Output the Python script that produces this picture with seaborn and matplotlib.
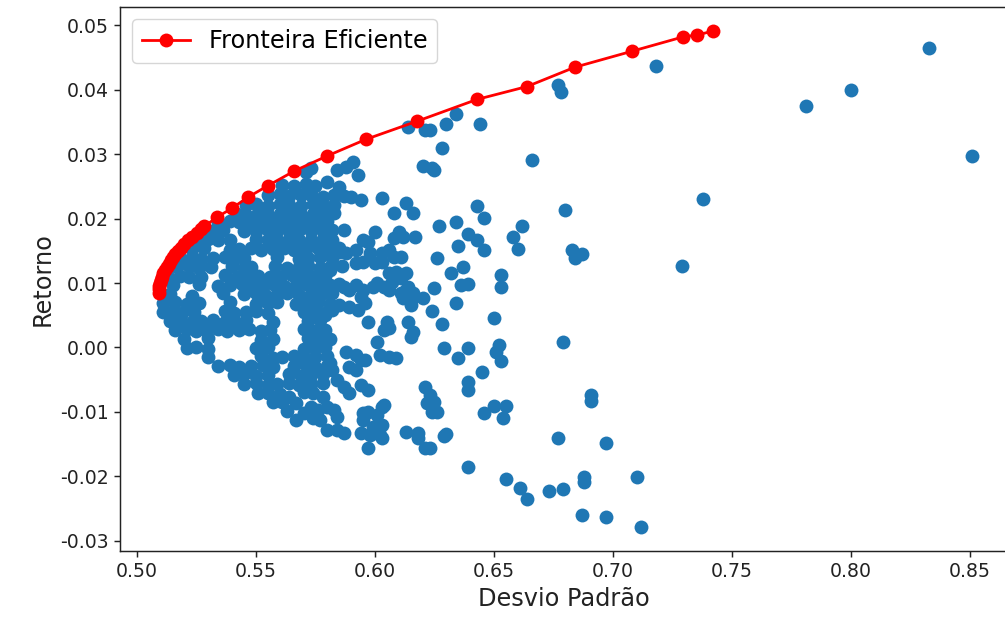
import matplotlib
matplotlib.use("Agg")
import matplotlib.pyplot as plt
import seaborn as sns
import pandas as pd

# Random portfolios: standard deviation (risk) and expected return
desvio = [
    0.781, 0.800, 0.833, 0.851, 0.738, 0.729, 0.718, 0.677, 0.678,
    0.634, 0.630, 0.623, 0.644, 0.628, 0.666, 0.625,
    0.643, 0.680, 0.646, 0.627, 0.634, 0.662, 0.639, 0.643, 0.658, 0.646, 0.660, 0.635,
    0.683, 0.687, 0.684, 0.626, 0.637, 0.632, 0.636, 0.639, 0.653, 0.653, 0.625, 0.634,
    0.624, 0.628, 0.650, 0.679, 0.629, 0.639, 0.635, 0.652, 0.651, 0.653, 0.645, 0.639,
    0.639, 0.691, 0.691, 0.625, 0.624, 0.646, 0.650, 0.655, 0.654, 0.629, 0.630, 0.623,
    0.677, 0.697, 0.639, 0.655, 0.661, 0.664, 0.673, 0.679, 0.688, 0.688, 0.710, 0.687,
    0.697, 0.712,
    0.614, 0.621, 0.620, 0.624,
    0.591, 0.588, 0.573, 0.584, 0.593, 0.571, 0.580,
    0.590, 0.594, 0.603, 0.613, 0.616, 0.608,
    0.587, 0.600, 0.595, 0.597, 0.610, 0.608, 0.612, 0.617,
    0.606, 0.603, 0.598, 0.592, 0.588, 0.585, 0.611, 0.608,
    0.592, 0.595, 0.600, 0.603, 0.581, 0.606, 0.609, 0.613,
    0.587, 0.589, 0.592, 0.595, 0.599, 0.601, 0.604, 0.607, 0.611, 0.614, 0.616, 0.613, 0.620,
    0.578, 0.576,
    0.585, 0.589, 0.579, 0.582, 0.594, 0.596, 0.593, 0.597, 0.606, 0.611, 0.612, 0.616, 0.615,
    0.605, 0.606, 0.604, 0.614, 0.616, 0.615, 0.601,
    0.602, 0.606, 0.609, 0.588, 0.592, 0.594, 0.596, 0.589, 0.592, 0.581, 0.582,
    0.584, 0.587, 0.589, 0.594, 0.597, 0.621, 0.623,
    0.570, 0.574, 0.578, 0.573, 0.576, 0.570, 0.574, 0.577, 0.567, 0.564,
    0.580, 0.583, 0.584, 0.595, 0.597, 0.603, 0.604, 0.601, 0.622, 0.626,
    0.580, 0.584, 0.587, 0.594, 0.598, 0.602, 0.599, 0.613, 0.618,
    0.597, 0.603, 0.603, 0.621, 0.618, 0.595, 0.567,
    0.561, 0.566, 0.571, 0.575, 0.585,
    0.555, 0.560, 0.564, 0.569, 0.573, 0.578, 0.583, 0.587,
    0.546, 0.550, 0.555, 0.560, 0.564, 0.569, 0.574, 0.578, 0.583,
    0.542, 0.546, 0.551, 0.555, 0.560, 0.565, 0.569, 0.574, 0.578, 0.583,
    0.534, 0.539, 0.543, 0.548, 0.553, 0.557, 0.562, 0.566, 0.571, 0.576, 0.580,
    0.531, 0.536, 0.545, 0.550, 0.555, 0.559, 0.564, 0.568, 0.573, 0.578, 0.582,
    0.525, 0.530, 0.534, 0.539, 0.550, 0.555, 0.559, 0.564, 0.568, 0.573, 0.578, 0.582,
    0.523, 0.528, 0.539, 0.543, 0.548, 0.552, 0.557, 0.562, 0.566, 0.571, 0.576, 0.580, 0.585,
    0.518, 0.523, 0.527, 0.532, 0.537, 0.541, 0.545, 0.559, 0.568, 0.572, 0.577, 0.582,
    0.517, 0.522, 0.526, 0.531, 0.540, 0.545, 0.548, 0.558, 0.563, 0.568, 0.572, 0.577, 0.581, 0.586,
    0.513, 0.518, 0.522, 0.527, 0.537, 0.542, 0.546, 0.551, 0.556, 0.560, 0.565, 0.570, 0.574, 0.579,
    0.515, 0.526, 0.534, 0.539, 0.544, 0.548, 0.553, 0.557, 0.562, 0.567, 0.571, 0.576, 0.581, 0.585,
    0.514, 0.523, 0.536, 0.545, 0.550, 0.554, 0.559, 0.563, 0.568, 0.573, 0.582,
    0.511, 0.516, 0.521, 0.526, 0.539, 0.550, 0.555, 0.559, 0.567, 0.571, 0.576, 0.581,
    0.511, 0.515, 0.519, 0.524, 0.537, 0.541, 0.546, 0.550, 0.555, 0.570, 0.575, 0.579,
    0.514, 0.518, 0.523, 0.527, 0.532, 0.537, 0.541, 0.546, 0.557, 0.572, 0.577,
    0.516, 0.521, 0.525, 0.529, 0.534, 0.538, 0.543, 0.547, 0.552, 0.556, 0.570, 0.575, 0.579,
    0.520, 0.530, 0.552, 0.557, 0.572, 0.577, 0.581,
    0.521, 0.525, 0.530, 0.550, 0.555, 0.570, 0.575, 0.579,
    0.530, 0.552, 0.557, 0.561, 0.566, 0.570, 0.575, 0.580,
    0.534, 0.539, 0.543, 0.548, 0.553, 0.557, 0.566, 0.571, 0.575, 0.580,
    0.541, 0.545, 0.550, 0.555, 0.564, 0.569, 0.573, 0.578,
    0.545, 0.550, 0.555, 0.559, 0.564, 0.568, 0.573, 0.578,
    0.551, 0.555, 0.560, 0.557, 0.561, 0.563,
]
retorno = [
    0.0375, 0.0400, 0.0465, 0.0297, 0.0230, 0.0127, 0.0437, 0.0407, 0.0396,
    0.0362, 0.0347, 0.0337, 0.0347, 0.0309, 0.0291, 0.0275,
    0.0219, 0.0213, 0.0201, 0.0188, 0.0195, 0.0188, 0.0176, 0.0167, 0.0171, 0.0151, 0.0153, 0.0157,
    0.0151, 0.0145, 0.0139, 0.0139, 0.0125, 0.0115, 0.0097, 0.0098, 0.0112, 0.0094, 0.0092, 0.0069,
    0.0056, 0.0036, 0.0046, 0.0008, -0.0001, -0.0001, -0.0017, 0.0003, -0.0007, -0.0021, -0.0038, -0.0054,
    -0.0066, -0.0074, -0.0083, -0.0085, -0.0100, -0.0102, -0.0091, -0.0091, -0.0110, -0.0138, -0.0135, -0.0156,
    -0.0141, -0.0149, -0.0186, -0.0205, -0.0219, -0.0236, -0.0223, -0.0220, -0.0201, -0.0209, -0.0201, -0.0260,
    -0.0263, -0.0279,
    0.0342, 0.0337, 0.0282, 0.0278,
    0.0288, 0.0280, 0.0278, 0.0275, 0.0268, 0.0272, 0.0257,
    0.0233, 0.0229, 0.0232, 0.0224, 0.0209, 0.0209,
    0.0182, 0.0179, 0.0167, 0.0163, 0.0179, 0.0170, 0.0171, 0.0171,
    0.0151, 0.0146, 0.0146, 0.0151, 0.0146, 0.0148, 0.0140, 0.0140,
    0.0131, 0.0132, 0.0131, 0.0132, 0.0120, 0.0115, 0.0117, 0.0115,
    0.0094, 0.0089, 0.0097, 0.0089, 0.0094, 0.0100, 0.0094, 0.0101, 0.0108, 0.0094, 0.0084, 0.0089, 0.0077,
    0.0084, 0.0078,
    0.0066, 0.0063, 0.0050, 0.0058, 0.0078, 0.0069, 0.0058, 0.0039, 0.0089, 0.0084, 0.0077, 0.0078, 0.0066,
    0.0039, 0.0030, 0.0027, 0.0039, 0.0024, 0.0016, 0.0008,
    -0.0012, -0.0015, -0.0017, -0.0007, -0.0012, -0.0020, -0.0020, -0.0031, -0.0035, -0.0024, -0.0035,
    -0.0051, -0.0062, -0.0071, -0.0059, -0.0066, -0.0062, -0.0074,
    -0.0069, -0.0071, -0.0077, -0.0093, -0.0097, -0.0102, -0.0110, -0.0113, -0.0086, -0.0077,
    -0.0093, -0.0097, -0.0108, -0.0102, -0.0100, -0.0093, -0.0090, -0.0105, -0.0086, -0.0100,
    -0.0128, -0.0128, -0.0133, -0.0133, -0.0136, -0.0136, -0.0124, -0.0132, -0.0133,
    -0.0156, -0.0141, -0.0121, -0.0156, -0.0141, -0.0113, -0.0113,
    0.0252, 0.0250, 0.0253, 0.0251, 0.0249,
    0.0236, 0.0238, 0.0235, 0.0237, 0.0236, 0.0234, 0.0237, 0.0235,
    0.0221, 0.0223, 0.0220, 0.0222, 0.0221, 0.0219, 0.0222, 0.0220, 0.0221,
    0.0207, 0.0205, 0.0208, 0.0206, 0.0207, 0.0209, 0.0206, 0.0207, 0.0205, 0.0208,
    0.0195, 0.0196, 0.0194, 0.0195, 0.0197, 0.0194, 0.0195, 0.0196, 0.0193, 0.0195, 0.0196,
    0.0181, 0.0182, 0.0180, 0.0181, 0.0183, 0.0180, 0.0181, 0.0182, 0.0180, 0.0181, 0.0183,
    0.0167, 0.0168, 0.0166, 0.0167, 0.0168, 0.0166, 0.0167, 0.0169, 0.0166, 0.0167, 0.0168, 0.0166,
    0.0153, 0.0154, 0.0152, 0.0153, 0.0155, 0.0152, 0.0153, 0.0154, 0.0152, 0.0153, 0.0155, 0.0153, 0.0154,
    0.0139, 0.0140, 0.0138, 0.0139, 0.0140, 0.0138, 0.0139, 0.0140, 0.0138, 0.0139, 0.0141, 0.0139,
    0.0125, 0.0126, 0.0124, 0.0125, 0.0126, 0.0124, 0.0125, 0.0126, 0.0124, 0.0125, 0.0127, 0.0124, 0.0125, 0.0126,
    0.0110, 0.0111, 0.0109, 0.0110, 0.0112, 0.0109, 0.0110, 0.0111, 0.0109, 0.0110, 0.0112, 0.0109, 0.0110, 0.0111,
    0.0097, 0.0098, 0.0096, 0.0097, 0.0098, 0.0096, 0.0097, 0.0098, 0.0096, 0.0097, 0.0099, 0.0096, 0.0097, 0.0098,
    0.0083, 0.0080, 0.0085, 0.0083, 0.0084, 0.0082, 0.0083, 0.0084, 0.0082, 0.0083, 0.0084,
    0.0069, 0.0070, 0.0068, 0.0069, 0.0070, 0.0068, 0.0069, 0.0071, 0.0068, 0.0069, 0.0070, 0.0068,
    0.0055, 0.0056, 0.0054, 0.0055, 0.0056, 0.0054, 0.0055, 0.0057, 0.0054, 0.0055, 0.0056, 0.0054,
    0.0041, 0.0042, 0.0040, 0.0041, 0.0042, 0.0040, 0.0041, 0.0043, 0.0040, 0.0041, 0.0042,
    0.0027, 0.0028, 0.0026, 0.0027, 0.0028, 0.0026, 0.0027, 0.0029, 0.0026, 0.0027, 0.0028, 0.0026, 0.0027,
    0.0013, 0.0014, 0.0012, 0.0013, 0.0014, 0.0012, 0.0013,
    -0.0001, 0.0000, -0.0002, -0.0001, 0.0000, -0.0002, -0.0001, 0.0000,
    -0.0015, -0.0014, -0.0016, -0.0015, -0.0014, -0.0016, -0.0015, -0.0014,
    -0.0029, -0.0028, -0.0030, -0.0029, -0.0028, -0.0030, -0.0029, -0.0028, -0.0030, -0.0029,
    -0.0043, -0.0042, -0.0044, -0.0043, -0.0042, -0.0044, -0.0043, -0.0042,
    -0.0057, -0.0056, -0.0058, -0.0057, -0.0056, -0.0058, -0.0057, -0.0056,
    -0.0071, -0.0070, -0.0072, -0.0085, -0.0084, -0.0099,
]

# Efficient frontier: standard deviation and return of each optimal portfolio
fronteira_desvio = [
    0.5091, 0.5092, 0.5094, 0.5097, 0.5101, 0.5106, 0.5111, 0.5117, 0.5125,
    0.5133, 0.5142, 0.5151, 0.5162, 0.5173, 0.5185, 0.5198, 0.5215, 0.5232,
    0.5251, 0.5271, 0.5284, 0.5336, 0.5399, 0.5466, 0.5550, 0.5662, 0.5798,
    0.5962, 0.6176, 0.6429, 0.6639, 0.6840, 0.7082, 0.7294, 0.7353, 0.7420,
]
fronteira_retorno = [
    0.0085, 0.0090, 0.0095, 0.0100, 0.0105, 0.0110, 0.0115, 0.0120, 0.0125,
    0.0130, 0.0135, 0.0140, 0.0145, 0.0150, 0.0155, 0.0160, 0.0166, 0.0172,
    0.0178, 0.0184, 0.0188, 0.0202, 0.0216, 0.0233, 0.0251, 0.0274, 0.0297,
    0.0323, 0.0351, 0.0385, 0.0405, 0.0435, 0.0460, 0.0482, 0.0485, 0.0491,
]

carteiras = pd.DataFrame({"Desvio": desvio, "Retorno": retorno})
fronteira = pd.DataFrame({"Desvio": fronteira_desvio, "Retorno": fronteira_retorno})

plt.rcParams["font.family"] = ["DejaVu Sans"]

fig = plt.figure(figsize=(10.05, 6.19), dpi=100)
ax = fig.add_axes([0.1194, 0.1099, 0.8836, 0.8783])

sns.scatterplot(data=carteiras, x="Desvio", y="Retorno", ax=ax,
                color="#1f77b4", s=100, linewidth=0, zorder=2)
sns.lineplot(data=fronteira, x="Desvio", y="Retorno", ax=ax, sort=False,
             estimator=None, color="red", marker="o", markersize=10,
             markeredgewidth=0, linewidth=2.0, label="Fronteira Eficiente",
             zorder=3)

ax.set_xlim(0.4929, 0.8660)
ax.set_ylim(-0.0316, 0.0528)
ax.set_xticks([0.50, 0.55, 0.60, 0.65, 0.70, 0.75, 0.80, 0.85])
ax.set_yticks([-0.03, -0.02, -0.01, 0.00, 0.01, 0.02, 0.03, 0.04, 0.05])
ax.set_xticklabels([f"{v:.2f}" for v in ax.get_xticks()])
ax.set_yticklabels([f"{v:.2f}" for v in ax.get_yticks()])

ax.set_xlabel("Desvio Padrão", fontsize=17.3, color="#222222")
ax.set_ylabel("Retorno", fontsize=17.3, color="#222222")
ax.tick_params(axis="both", labelsize=13.6, length=4.6, width=1.05,
               colors="#222222", labelcolor="#222222")
for spine in ax.spines.values():
    spine.set_linewidth(1.05)
    spine.set_color("#222222")

ax.legend(loc="upper left", fontsize=17.3)

fig.savefig("out.png", dpi=100)
